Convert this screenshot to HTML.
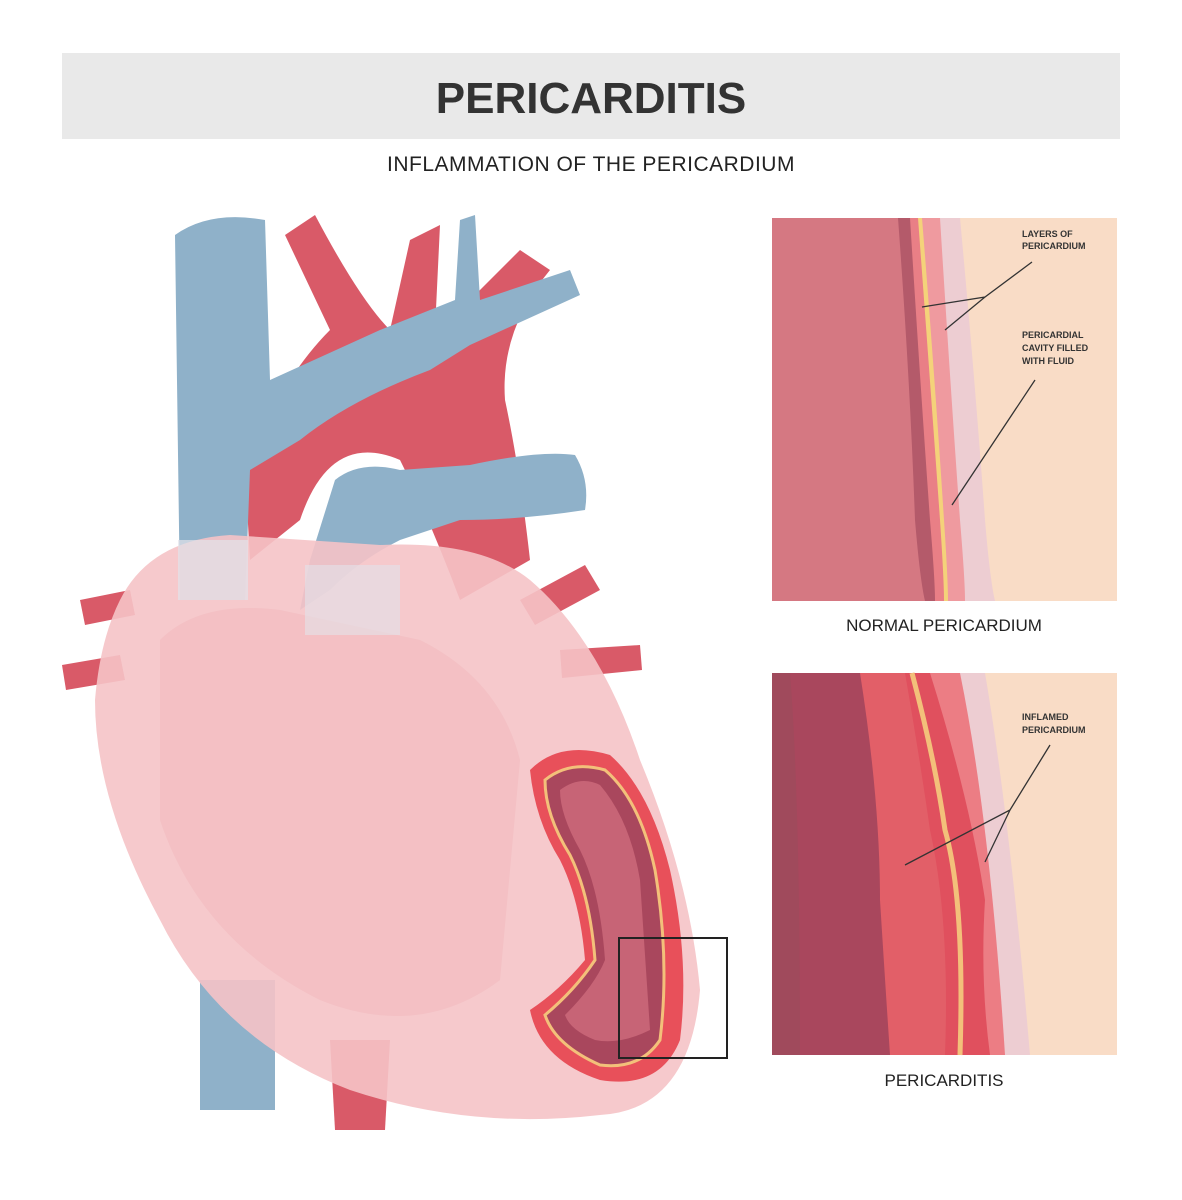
<!DOCTYPE html>
<html><head><meta charset="utf-8"><style>
body{margin:0;background:#fff;}
svg{display:block;}
text{font-family:"Liberation Sans",sans-serif;}
</style></head><body>
<svg width="1182" height="1200" viewBox="0 0 1182 1200" xmlns="http://www.w3.org/2000/svg">
<rect x="0" y="0" width="1182" height="1200" fill="#fff"/>
<rect x="62" y="53" width="1058" height="86" fill="#e9e9e9"/>
<text x="591" y="113" text-anchor="middle" font-size="44" font-weight="bold" fill="#333">PERICARDITIS</text>
<text x="591" y="171" text-anchor="middle" font-size="21" fill="#222" letter-spacing="0.5">INFLAMMATION OF THE PERICARDIUM</text>

<!-- vessels behind heart -->
<g>
<!-- red arteries left -->
<path d="M80 600 L130 590 L135 615 L85 625Z" fill="#d95a68"/>
<path d="M62 665 L120 655 L125 680 L66 690Z" fill="#d95a68"/>
<path d="M520 600 L585 565 L600 590 L535 625Z" fill="#d95a68"/>
<path d="M560 650 L640 645 L642 670 L562 678Z" fill="#d95a68"/>
<!-- aorta -->
<path d="M285 235 L315 215 Q360 300 390 330 L410 240 L440 225 L435 330 L470 300 L520 250 L550 270 Q500 330 505 400 Q520 470 530 560 L460 600 Q430 520 400 460 Q330 430 300 520 L250 560 L245 470 Q280 380 330 330 Z" fill="#d95a68"/>
<path d="M330 1040 L390 1040 L385 1130 L335 1130Z" fill="#d95a68"/>
<!-- blue -->
<path d="M175 235 Q210 210 265 220 L270 380 L380 330 L455 300 L460 220 L475 215 L480 300 L570 270 L580 295 L470 345 L430 370 Q350 400 300 440 L250 470 L245 600 L180 600 Z" fill="#8fb1c9"/>
<path d="M335 480 Q360 460 400 470 L470 465 Q540 450 575 455 Q590 480 585 510 Q520 520 460 520 L400 540 Q360 560 330 590 L300 610 L310 560 Z" fill="#8fb1c9"/>
<path d="M200 980 L275 980 L275 1110 L200 1110Z" fill="#8fb1c9"/>
</g>
<!-- heart translucent -->
<path d="M120 600 Q150 540 230 535 L380 545 Q480 540 530 580 Q600 640 640 760 Q690 880 700 990 Q690 1110 600 1115 Q470 1130 350 1090 Q220 1040 160 920 Q95 800 95 700 Q100 640 120 600Z" fill="#f5c3c6" fill-opacity="0.9"/>
<path d="M160 640 Q200 600 280 610 L420 640 Q500 680 520 760 L500 980 Q420 1040 320 1000 Q200 940 160 820Z" fill="#f2b8bc" fill-opacity="0.5"/>
<rect x="178" y="540" width="70" height="60" fill="#e3e3ea" fill-opacity="0.7"/>
<rect x="305" y="565" width="95" height="70" fill="#e3e3ea" fill-opacity="0.6"/>
<!-- inflamed region -->
<path d="M530 770 Q560 740 610 755 Q650 790 670 870 Q690 960 680 1040 Q660 1090 600 1080 Q540 1060 530 1010 Q560 990 585 960 Q580 900 560 860 Q535 820 530 770Z" fill="#e8505a"/>
<path d="M545 780 Q570 760 605 770 Q640 800 655 870 Q670 960 660 1040 Q640 1070 600 1065 Q555 1045 545 1015 Q575 990 595 960 Q590 895 570 855 Q545 815 545 780Z" fill="#a9475d" stroke="#f3c07a" stroke-width="3"/>
<path d="M560 790 Q580 775 600 785 Q630 820 640 880 L650 1030 Q620 1045 595 1040 Q570 1030 565 1015 Q595 985 605 960 Q600 890 580 850 Q560 815 560 790Z" fill="#c76476"/>
<rect x="619" y="938" width="108" height="120" fill="none" stroke="#222" stroke-width="2"/>

<!-- panel 1 -->
<rect x="772" y="218" width="345" height="383" fill="#f9dcc6"/>
<path d="M772 218 L960 218 Q975 380 985 520 Q990 580 995 601 L772 601Z" fill="#edcdd2"/>
<path d="M772 218 L940 218 Q950 380 960 520 Q965 580 965 601 L772 601Z" fill="#ef9a9f"/>
<path d="M772 218 L922 218 Q935 380 944 520 Q948 580 948 601 L772 601Z" fill="#f4d27a"/>
<path d="M772 218 L918 218 Q930 380 940 520 Q944 580 944 601 L772 601Z" fill="#e97f86"/>
<path d="M772 218 L910 218 Q920 380 930 520 Q935 580 935 601 L772 601Z" fill="#b45a6a"/>
<path d="M772 218 L898 218 Q910 380 915 520 Q920 580 925 601 L772 601Z" fill="#d57882"/>
<path d="M922 307 L985 297 L1032 262 M985 297 L945 330 M952 505 L1035 380" stroke="#333" stroke-width="1.3" fill="none"/>
<text x="1022" y="237" font-size="9" font-weight="bold" fill="#333">LAYERS OF</text>
<text x="1022" y="249" font-size="9" font-weight="bold" fill="#333">PERICARDIUM</text>
<text x="1022" y="338" font-size="9" font-weight="bold" fill="#333">PERICARDIAL</text>
<text x="1022" y="351" font-size="9" font-weight="bold" fill="#333">CAVITY FILLED</text>
<text x="1022" y="364" font-size="9" font-weight="bold" fill="#333">WITH FLUID</text>
<text x="944" y="631" text-anchor="middle" font-size="17" fill="#222">NORMAL PERICARDIUM</text>

<!-- panel 2 -->
<rect x="772" y="673" width="345" height="382" fill="#f9dcc6"/>
<path d="M772 673 L985 673 Q1010 820 1030 1055 L772 1055Z" fill="#edcdd2"/>
<path d="M772 673 L960 673 Q990 820 1005 1055 L772 1055Z" fill="#ec7d84"/>
<path d="M772 673 L930 673 Q970 800 985 900 Q980 980 990 1055 L772 1055Z" fill="#e0505e"/>
<path d="M912 673 Q935 760 945 830 Q965 900 960 1055" stroke="#f3c07a" stroke-width="5" fill="none"/>
<path d="M772 673 L905 673 Q920 760 930 830 Q950 920 945 1055 L772 1055Z" fill="#e25f68"/>
<path d="M772 673 L860 673 Q880 800 880 900 Q885 980 890 1055 L772 1055Z" fill="#a9475d"/>
<path d="M772 673 L790 673 Q800 800 800 1055 L772 1055Z" fill="#a04a5c"/>
<path d="M905 865 L1010 810 L1050 745 M1010 810 L985 862" stroke="#333" stroke-width="1.3" fill="none"/>
<text x="1022" y="720" font-size="9" font-weight="bold" fill="#333">INFLAMED</text>
<text x="1022" y="733" font-size="9" font-weight="bold" fill="#333">PERICARDIUM</text>
<text x="944" y="1086" text-anchor="middle" font-size="17" fill="#222">PERICARDITIS</text>
</svg>
</body></html>
